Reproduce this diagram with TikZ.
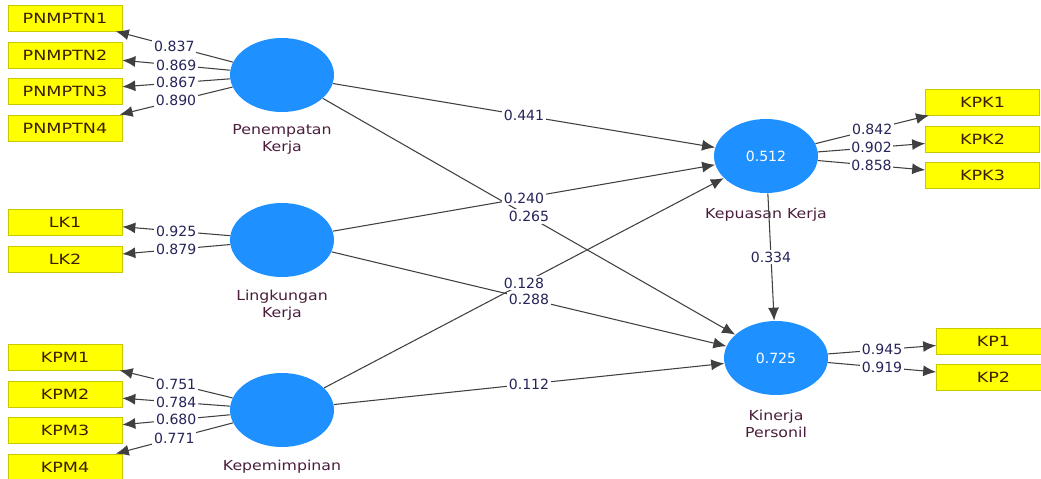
\documentclass[tikz,border=0pt]{standalone}
\usepackage{fontspec}
\setmainfont{DejaVu Sans}
\newfontfamily\namefont{DejaVu Sans}[FakeStretch=1.15]
\newfontfamily\boxfont{DejaVu Sans}[FakeStretch=1.25]
\usetikzlibrary{shapes.geometric,arrows.meta,positioning}

\definecolor{lvblue}{HTML}{1E90FF}
\definecolor{mvyellow}{HTML}{FFFF00}
\definecolor{mvborder}{HTML}{C8C800}
\definecolor{boxtext}{HTML}{3A2000}
\definecolor{nametext}{HTML}{4B1E3C}
\definecolor{numtext}{HTML}{25255A}
\definecolor{linegray}{HTML}{404040}

\tikzset{
  lv/.style={ellipse, fill=lvblue, minimum width=2.08cm, minimum height=1.48cm,
    inner sep=0pt, text=white, font=\fontsize{8}{9}\selectfont},
  mv/.style={rectangle, draw=mvborder, fill=mvyellow, minimum width=2.28cm,
    minimum height=0.52cm, inner sep=0pt, text=boxtext, font=\boxfont\fontsize{8}{9}\selectfont},
  lvname/.style={align=center, inner sep=0pt, text=nametext,
    font=\namefont\fontsize{7.8}{9.7}\selectfont},
  link/.style={draw=linegray, line width=0.6pt, -{Latex[length=2.6mm,width=2.2mm]}},
  coef/.style={fill=white, inner sep=1pt, text=numtext, font=\fontsize{8}{9}\selectfont}
}

\begin{document}
\begin{tikzpicture}[x=0.02cm, y=-0.02cm]
  \useasboundingbox[fill=white] (0,0) rectangle (1041,479);

  % indicators, left
  \node[mv] (pnmptn1) at (65,18) {PNMPTN1};
  \node[mv] (pnmptn2) at (65,55) {PNMPTN2};
  \node[mv] (pnmptn3) at (65,91) {PNMPTN3};
  \node[mv] (pnmptn4) at (65,128) {PNMPTN4};
  \node[mv] (lk1) at (65,222) {LK1};
  \node[mv] (lk2) at (65,259) {LK2};
  \node[mv] (kpm1) at (65,357) {KPM1};
  \node[mv] (kpm2) at (65,394) {KPM2};
  \node[mv] (kpm3) at (65,430) {KPM3};
  \node[mv] (kpm4) at (65,467) {KPM4};

  % latent variables
  \node[lv] (pk) at (282,75) {};
  \node[lv] (lk) at (282,240) {};
  \node[lv] (kpm) at (282,410) {};
  \node[lv] (kk) at (766,156) {0.512};
  \node[lv] (kinp) at (776,358) {0.725};
  \node[lvname, below=0.24cm of pk] (pkname) {Penempatan\\Kerja};
  \node[lvname, below=0.24cm of lk] (lkname) {Lingkungan\\Kerja};
  \node[lvname, below=0.24cm of kpm] (kpmname) {Kepemimpinan};
  \node[lvname, below=0.28cm of kk] (kkname) {Kepuasan Kerja};
  \node[lvname, below=0.28cm of kinp] (kinpname) {Kinerja\\Personil};

  % indicators, right
  \node[mv] (kpk1) at (982.5,102) {KPK1};
  \node[mv] (kpk2) at (982.5,139) {KPK2};
  \node[mv] (kpk3) at (982.5,175) {KPK3};
  \node[mv] (kp1) at (993.5,341) {KP1};
  \node[mv] (kp2) at (993.5,377) {KP2};

  % outer loadings
  \draw[link] (pk) -- node[coef] {0.837} (pnmptn1);
  \draw[link] (pk) -- node[coef] {0.869} (pnmptn2);
  \draw[link] (pk) -- node[coef] {0.867} (pnmptn3);
  \draw[link] (pk) -- node[coef] {0.890} (pnmptn4);
  \draw[link] (lk) -- node[coef] {0.925} (lk1);
  \draw[link] (lk) -- node[coef] {0.879} (lk2);
  \draw[link] (kpm) -- node[coef] {0.751} (kpm1);
  \draw[link] (kpm) -- node[coef] {0.784} (kpm2);
  \draw[link] (kpm) -- node[coef] {0.680} (kpm3);
  \draw[link] (kpm) -- node[coef] {0.771} (kpm4);
  \draw[link] (kk) -- node[coef] {0.842} (kpk1);
  \draw[link] (kk) -- node[coef] {0.902} (kpk2);
  \draw[link] (kk) -- node[coef] {0.858} (kpk3);
  \draw[link] (kinp) -- node[coef] {0.945} (kp1);
  \draw[link] (kinp) -- node[coef] {0.919} (kp2);

  % path coefficients
  \draw[link] (pk) -- node[coef] {0.441} (kk);
  \draw[link] (pk) -- node[coef] {0.265} (kinp);
  \draw[link] (lk) -- node[coef] {0.240} (kk);
  \draw[link] (kpm) -- node[coef] {0.128} (kk);
  \draw[link] (lk) -- node[coef] {0.288} (kinp);
  \draw[link] (kpm) -- node[coef] {0.112} (kinp);
  \draw[link] (kk) -- node[coef] {0.334} (kinp);
\end{tikzpicture}
\end{document}
